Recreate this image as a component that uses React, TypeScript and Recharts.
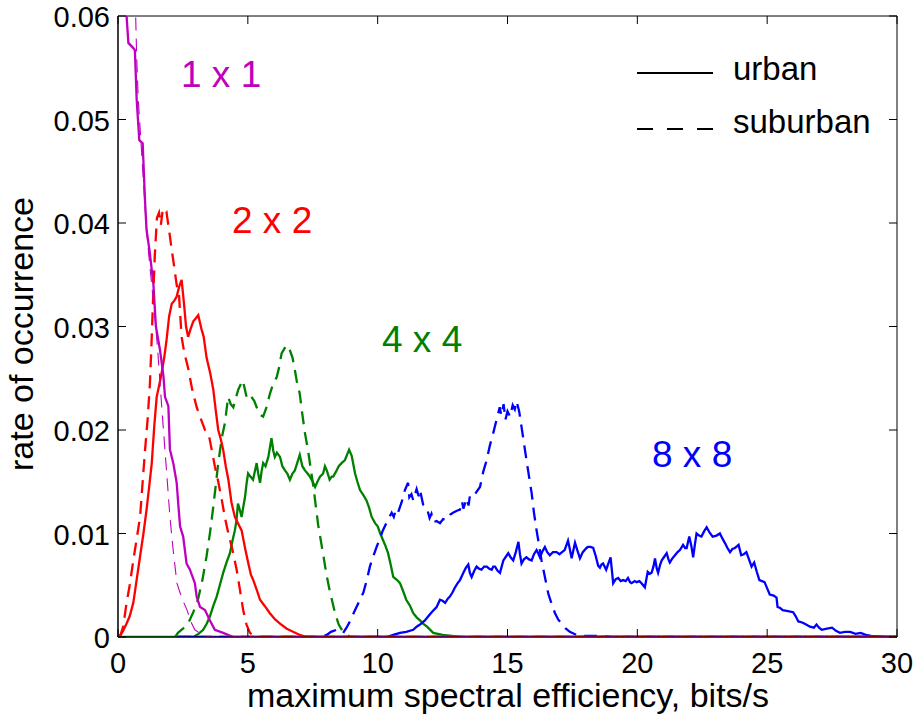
import React from 'react';
import { LineChart, Line, XAxis, YAxis, ReferenceArea } from 'recharts';

// [spectral efficiency, rate of occurrence]
const m1Urban: [number, number][] = [
  [0.2, 0.075], [0.33, 0.06], [0.4, 0.0574], [0.59, 0.0569], [0.65, 0.0567], [0.72, 0.0519],
  [0.82, 0.048], [0.95, 0.0477], [1.04, 0.0422], [1.1, 0.0393], [1.21, 0.0374], [1.36, 0.0342],
  [1.46, 0.03], [1.62, 0.0277], [1.75, 0.0252], [1.81, 0.0232], [1.94, 0.0223], [2.0, 0.0181],
  [2.13, 0.0168], [2.26, 0.0149], [2.32, 0.0129], [2.39, 0.0107], [2.51, 0.0097], [2.64, 0.0071],
  [2.77, 0.0065], [2.96, 0.0052], [3.03, 0.0039], [3.16, 0.0029], [3.35, 0.0026], [3.54, 0.0016],
  [3.73, 0.0007], [4.05, 0.0004], [4.44, 0], [30, 0],
];

const m1Suburban: [number, number][] = [
  [0.55, 0.07], [0.68, 0.06], [0.72, 0.056], [0.78, 0.052], [0.88, 0.048], [0.98, 0.044],
  [1.08, 0.04], [1.2, 0.0365], [1.3, 0.034], [1.42, 0.031], [1.52, 0.028], [1.62, 0.0245],
  [1.72, 0.021], [1.81, 0.018], [1.9, 0.015], [2.0, 0.0116], [2.12, 0.0085], [2.27, 0.0052],
  [2.45, 0.0038], [2.66, 0.0026], [2.8, 0.0015], [2.96, 0.0007], [3.3, 0.0001], [3.6, 0], [30, 0],
];

const r2Urban: [number, number][] = [
  [0, 0], [0.1, 0.0002], [0.2, 0.0006], [0.33, 0.0013], [0.45, 0.002], [0.59, 0.0033], [0.7, 0.0052],
  [0.85, 0.0078], [0.98, 0.01], [1.1, 0.0123], [1.2, 0.0145], [1.3, 0.0168], [1.4, 0.0205],
  [1.49, 0.0232], [1.6, 0.0245], [1.68, 0.0255], [1.78, 0.027], [1.87, 0.0287], [1.97, 0.031],
  [2.07, 0.0322], [2.17, 0.0325], [2.26, 0.0329], [2.35, 0.0338], [2.45, 0.0345], [2.55, 0.032],
  [2.62, 0.03], [2.7, 0.029], [2.8, 0.0298], [2.9, 0.0305], [3.0, 0.0308], [3.09, 0.0311],
  [3.22, 0.0297], [3.3, 0.029], [3.41, 0.027], [3.55, 0.0255], [3.67, 0.0239], [3.76, 0.022],
  [3.86, 0.02], [3.95, 0.0192], [4.05, 0.0181], [4.15, 0.0165], [4.25, 0.0152], [4.37, 0.013],
  [4.5, 0.0116], [4.62, 0.011], [4.76, 0.0103], [4.9, 0.0085], [5.02, 0.0071], [5.12, 0.006],
  [5.21, 0.0055], [5.35, 0.0045], [5.47, 0.0036], [5.65, 0.003], [5.85, 0.0023], [6.05, 0.0017],
  [6.24, 0.0013], [6.5, 0.0008], [6.74, 0.0005], [7.0, 0.0002], [7.26, 0], [30, 0],
];

const r2Suburban: [number, number][] = [
  [0, 0], [0.1, 0.0002], [0.2, 0.001], [0.33, 0.0033], [0.45, 0.005], [0.59, 0.0074], [0.72, 0.0095],
  [0.85, 0.0116], [0.95, 0.015], [1.04, 0.018], [1.14, 0.021], [1.23, 0.0245], [1.3, 0.029],
  [1.35, 0.0326], [1.42, 0.037], [1.5, 0.0405], [1.58, 0.041], [1.65, 0.0398], [1.72, 0.0412],
  [1.8, 0.0408], [1.87, 0.041], [2.0, 0.0387], [2.07, 0.0374], [2.18, 0.0355], [2.26, 0.034],
  [2.35, 0.033], [2.45, 0.029], [2.55, 0.0275], [2.7, 0.026], [2.85, 0.024], [3.03, 0.0222],
  [3.2, 0.021], [3.35, 0.02], [3.5, 0.0195], [3.73, 0.0165], [3.86, 0.015], [4.0, 0.0132],
  [4.12, 0.0115], [4.25, 0.01], [4.4, 0.0085], [4.57, 0.0065], [4.7, 0.0045], [4.82, 0.0026],
  [4.95, 0.0012], [5.08, 0.0004], [5.3, 0], [30, 0],
];

const g4Urban: [number, number][] = [
  [0, 0], [2.9, 0], [3.1, 0.0003], [3.28, 0.0007], [3.42, 0.0013], [3.54, 0.002], [3.67, 0.003],
  [3.8, 0.0039], [3.92, 0.005], [4.05, 0.0062], [4.18, 0.0072], [4.31, 0.0081], [4.4, 0.0092],
  [4.5, 0.0103], [4.56, 0.0112], [4.62, 0.0129], [4.7, 0.0122], [4.76, 0.0116], [4.82, 0.0125],
  [4.89, 0.0135], [4.95, 0.0148], [5.01, 0.0158], [5.1, 0.0155], [5.2, 0.0152], [5.27, 0.016],
  [5.34, 0.0168], [5.4, 0.0158], [5.47, 0.0149], [5.53, 0.016], [5.59, 0.0168], [5.68, 0.0165],
  [5.79, 0.0174], [5.91, 0.0192], [5.98, 0.018], [6.04, 0.0174], [6.12, 0.0178], [6.24, 0.0174],
  [6.33, 0.0165], [6.43, 0.0161], [6.52, 0.0158], [6.62, 0.0152], [6.72, 0.0158], [6.81, 0.0161],
  [6.9, 0.0168], [7.0, 0.0176], [7.1, 0.0165], [7.2, 0.0161], [7.3, 0.0158], [7.39, 0.0155],
  [7.5, 0.015], [7.59, 0.0145], [7.68, 0.015], [7.78, 0.0155], [7.9, 0.0158], [7.97, 0.0165],
  [8.04, 0.0161], [8.15, 0.0152], [8.23, 0.0155], [8.29, 0.0155], [8.4, 0.016], [8.5, 0.0165],
  [8.61, 0.0168], [8.74, 0.0171], [8.9, 0.0181], [9.0, 0.0175], [9.13, 0.0158], [9.22, 0.015],
  [9.32, 0.0142], [9.45, 0.0137], [9.57, 0.0132], [9.67, 0.0125], [9.77, 0.0116], [9.9, 0.011],
  [10.0, 0.0107], [10.1, 0.01], [10.2, 0.0094], [10.3, 0.0088], [10.4, 0.0081], [10.5, 0.007],
  [10.6, 0.0058], [10.75, 0.0055], [10.86, 0.0052], [11.0, 0.0043], [11.1, 0.0036], [11.25, 0.003],
  [11.37, 0.0023], [11.5, 0.0019], [11.63, 0.0016], [11.75, 0.0013], [11.9, 0.001], [12.14, 0.0004],
  [12.5, 0.0002], [13.2, 0], [30, 0],
];

const g4Suburban: [number, number][] = [
  [2.2, 0], [2.31, 0.0004], [2.5, 0.0008], [2.7, 0.0013], [2.9, 0.0024], [3.08, 0.0036], [3.25, 0.0055],
  [3.41, 0.0078], [3.55, 0.0102], [3.67, 0.0126], [3.78, 0.015], [3.86, 0.0168], [4.0, 0.0193],
  [4.12, 0.0207], [4.24, 0.0232], [4.34, 0.0225], [4.44, 0.0222], [4.55, 0.0232], [4.63, 0.0239],
  [4.8, 0.0248], [4.88, 0.024], [4.95, 0.0232], [5.05, 0.0235], [5.14, 0.0232], [5.25, 0.0228],
  [5.34, 0.0222], [5.45, 0.0215], [5.59, 0.0213], [5.72, 0.0222], [5.85, 0.0235], [5.98, 0.0245],
  [6.11, 0.0251], [6.2, 0.026], [6.3, 0.0274], [6.49, 0.0282], [6.62, 0.0277], [6.72, 0.027],
  [6.81, 0.0258], [6.9, 0.0245], [7.0, 0.0235], [7.1, 0.0215], [7.2, 0.0197], [7.32, 0.018],
  [7.52, 0.0146], [7.71, 0.0108], [7.9, 0.008], [8.03, 0.006], [8.16, 0.0044], [8.36, 0.0023],
  [8.5, 0.0012], [8.67, 0.0005], [8.94, 0], [30, 0],
];

const b8Urban: [number, number][] = [
  [2.3, 0], [10.35, 0], [10.6, 0.0002], [10.86, 0.0004], [11.1, 0.0005], [11.37, 0.0007], [11.5, 0.001],
  [11.63, 0.0012], [11.82, 0.0016], [11.95, 0.002], [12.08, 0.0024], [12.27, 0.0029], [12.4, 0.0036],
  [12.5, 0.0035], [12.6, 0.0033], [12.7, 0.0037], [12.78, 0.0039], [12.88, 0.0043], [12.98, 0.0048],
  [13.08, 0.0052], [13.17, 0.0055], [13.3, 0.0062], [13.4, 0.0067], [13.49, 0.007], [13.55, 0.0062],
  [13.62, 0.0058], [13.72, 0.0064], [13.81, 0.0068], [13.9, 0.0066], [14.0, 0.0065], [14.1, 0.0068],
  [14.2, 0.0068], [14.3, 0.0066], [14.39, 0.0065], [14.45, 0.0068], [14.52, 0.0068], [14.62, 0.0064],
  [14.71, 0.0062], [14.84, 0.0074], [14.95, 0.0078], [15.03, 0.0081], [15.12, 0.0077], [15.22, 0.0074],
  [15.32, 0.0082], [15.42, 0.0092], [15.48, 0.008], [15.54, 0.0071], [15.63, 0.0075], [15.73, 0.0077],
  [15.83, 0.0075], [15.93, 0.0074], [16.02, 0.008], [16.12, 0.0084], [16.2, 0.008], [16.25, 0.0077],
  [16.35, 0.0083], [16.44, 0.0087], [16.53, 0.0082], [16.63, 0.0079], [16.75, 0.0082], [16.89, 0.0082],
  [17.0, 0.008], [17.1, 0.0082], [17.2, 0.0084], [17.33, 0.0093], [17.4, 0.0085], [17.47, 0.0076],
  [17.53, 0.0083], [17.6, 0.0091], [17.7, 0.0083], [17.79, 0.0076], [17.9, 0.0082], [18.04, 0.0086],
  [18.1, 0.0087], [18.2, 0.0087], [18.3, 0.0086], [18.4, 0.0078], [18.49, 0.0069], [18.56, 0.0067],
  [18.62, 0.007], [18.68, 0.0071], [18.8, 0.0065], [18.9, 0.0072], [18.97, 0.0077], [19.07, 0.0052],
  [19.17, 0.0056], [19.26, 0.0057], [19.36, 0.0054], [19.45, 0.0055], [19.55, 0.0054], [19.64, 0.0057],
  [19.72, 0.0053], [19.78, 0.0052], [19.9, 0.0054], [19.97, 0.0053], [20.08, 0.0054], [20.16, 0.0052],
  [20.29, 0.0048], [20.4, 0.0063], [20.48, 0.0061], [20.55, 0.0062], [20.62, 0.0068], [20.68, 0.0076],
  [20.75, 0.0066], [20.8, 0.0062], [20.88, 0.007], [20.94, 0.0074], [21.05, 0.0078], [21.13, 0.0081],
  [21.2, 0.0075], [21.25, 0.0072], [21.35, 0.0076], [21.45, 0.0079], [21.55, 0.0082], [21.64, 0.0084],
  [21.76, 0.0089], [21.84, 0.0086], [21.9, 0.0086], [22.0, 0.0097], [22.08, 0.0088], [22.15, 0.0077],
  [22.22, 0.009], [22.28, 0.01], [22.38, 0.0098], [22.47, 0.0097], [22.57, 0.0102], [22.67, 0.0106],
  [22.78, 0.0101], [22.9, 0.0097], [23.05, 0.0098], [23.18, 0.01], [23.28, 0.0095], [23.37, 0.0091],
  [23.47, 0.0086], [23.57, 0.0082], [23.66, 0.0085], [23.76, 0.0086], [23.9, 0.0089], [24.0, 0.0079],
  [24.1, 0.008], [24.2, 0.0082], [24.3, 0.0075], [24.4, 0.0068], [24.5, 0.0072], [24.6, 0.0063],
  [24.7, 0.0055], [24.8, 0.0054], [24.9, 0.0053], [25.0, 0.0047], [25.1, 0.0041], [25.25, 0.004],
  [25.36, 0.0038], [25.4, 0.0029], [25.5, 0.0028], [25.6, 0.0026], [25.8, 0.0025], [26.0, 0.0024],
  [26.1, 0.002], [26.2, 0.0015], [26.35, 0.0014], [26.5, 0.0012], [26.65, 0.001], [26.8, 0.0009],
  [26.9, 0.0012], [27.0, 0.0009], [27.1, 0.0007], [27.3, 0.0008], [27.5, 0.0009], [27.65, 0.0006],
  [27.8, 0.0004], [28.0, 0.0005], [28.2, 0.0005], [28.4, 0.0003], [28.6, 0.0004], [28.8, 0.0002],
  [29.0, 0.0001], [29.5, 0], [30, 0],
];

const b8Suburban: [number, number][] = [
  [2.3, 0], [7.8, 0], [8.04, 0.0002], [8.2, 0.0005], [8.42, 0.0007], [8.55, 0.0006], [8.67, 0.0004],
  [8.8, 0.0009], [8.93, 0.0015], [9.13, 0.0026], [9.3, 0.0035], [9.45, 0.0043], [9.58, 0.0055],
  [9.7, 0.0068], [9.83, 0.0078], [9.96, 0.0087], [10.1, 0.0096], [10.2, 0.0103], [10.37, 0.0112],
  [10.54, 0.012], [10.62, 0.0116], [10.7, 0.0123], [10.78, 0.012], [10.92, 0.013], [11.05, 0.0142],
  [11.17, 0.0149], [11.22, 0.0135], [11.3, 0.0138], [11.37, 0.0132], [11.5, 0.0143], [11.58, 0.0136],
  [11.63, 0.0142], [11.75, 0.0128], [11.88, 0.0126], [12.0, 0.0115], [12.07, 0.0119], [12.14, 0.0111],
  [12.27, 0.0112], [12.4, 0.011], [12.52, 0.0114], [12.65, 0.0113], [12.78, 0.0118], [12.9, 0.012],
  [13.05, 0.0122], [13.17, 0.0123], [13.25, 0.0131], [13.3, 0.0124], [13.43, 0.0134], [13.5, 0.0127],
  [13.55, 0.0136], [13.68, 0.0135], [13.8, 0.014], [13.94, 0.0145], [14.07, 0.016], [14.2, 0.0171],
  [14.32, 0.0185], [14.45, 0.0197], [14.58, 0.021], [14.7, 0.0222], [14.76, 0.0214], [14.85, 0.0225],
  [14.92, 0.021], [15.0, 0.0218], [15.1, 0.0213], [15.2, 0.0224], [15.28, 0.022], [15.35, 0.0228],
  [15.45, 0.0218], [15.54, 0.0203], [15.63, 0.0188], [15.73, 0.0171], [15.83, 0.0155], [15.93, 0.0139],
  [16.02, 0.012], [16.12, 0.0103], [16.22, 0.0088], [16.31, 0.0074], [16.44, 0.0058], [16.57, 0.0042],
  [16.7, 0.0032], [16.83, 0.0023], [16.95, 0.0017], [17.08, 0.0013], [17.25, 0.0008], [17.4, 0.0005],
  [17.66, 0.0002], [18.0, 0.0001], [18.5, 0.0001], [19.0, 0], [30, 0],
];

const xTicks = [0, 5, 10, 15, 20, 25, 30];
const yTicks = [0, 0.01, 0.02, 0.03, 0.04, 0.05, 0.06];

const MAGENTA = '#bf00bf';
const RED = '#ff0000';
const GREEN = '#008000';
const BLUE = '#0000ff';
const FONT = '"Liberation Sans", Arial, Helvetica, sans-serif';

const W = 913;
const H = 717;
const TOP = 16;
const RIGHT = 897;
const TICK = 8;

const toPoints = (s: [number, number][]) => s.map(([x, y]) => ({ x, y }));

// drawn in this order, last one on top
const series = [
  { key: 'g4u', data: g4Urban, color: GREEN, dashed: false, width: 2.3 },
  { key: 'g4s', data: g4Suburban, color: GREEN, dashed: true, width: 2.3 },
  { key: 'b8u', data: b8Urban, color: BLUE, dashed: false, width: 2.3 },
  { key: 'b8s', data: b8Suburban, color: BLUE, dashed: true, width: 2.3 },
  { key: 'r2u', data: r2Urban, color: RED, dashed: false, width: 2.3 },
  { key: 'm1u', data: m1Urban, color: MAGENTA, dashed: false, width: 2.3 },
  { key: 'r2s', data: r2Suburban, color: RED, dashed: true, width: 2.3 },
  { key: 'm1s', data: m1Suburban, color: MAGENTA, dashed: true, width: 1.1 },
];

function XTick(props: any) {
  const { x, y, payload } = props;
  return (
    <g>
      <line x1={x} x2={x} y1={y} y2={y - TICK} stroke="#000" />
      <line x1={x} x2={x} y1={TOP} y2={TOP + TICK} stroke="#000" />
      <text x={x} y={y + 36} textAnchor="middle" fontSize={29} fontFamily={FONT} fill="#000">
        {payload.value}
      </text>
    </g>
  );
}

function YTick(props: any) {
  const { x, y, payload } = props;
  const label = payload.value === 0 ? '0' : payload.value.toFixed(2);
  return (
    <g>
      <line x1={x} x2={x + TICK} y1={y} y2={y} stroke="#000" />
      <line x1={RIGHT} x2={RIGHT - TICK} y1={y} y2={y} stroke="#000" />
      <text x={x - 8} y={y + 11} textAnchor="end" fontSize={29} fontFamily={FONT} fill="#000">
        {label}
      </text>
    </g>
  );
}

export default function App() {
  return (
    <div style={{ position: 'absolute', left: 0, top: 0, width: W, height: H, background: '#fff' }}>
      <LineChart width={W} height={H} margin={{ top: TOP, right: W - RIGHT, bottom: 0, left: 0 }}>
        <XAxis
          type="number"
          dataKey="x"
          domain={[0, 30]}
          ticks={xTicks}
          allowDataOverflow
          height={80}
          tickLine={false}
          tickSize={0}
          tickMargin={0}
          axisLine={{ stroke: '#000' }}
          tick={(p: any) => <XTick {...p} />}
        />
        <YAxis
          type="number"
          domain={[0, 0.06]}
          ticks={yTicks}
          allowDataOverflow
          width={118}
          tickLine={false}
          tickSize={0}
          tickMargin={0}
          axisLine={{ stroke: '#000' }}
          tick={(p: any) => <YTick {...p} />}
        />
        <ReferenceArea x1={0} x2={30} y1={0} y2={0.06} fill="none" stroke="#000" strokeOpacity={1} fillOpacity={0} />
        {series.map((s) => (
          <Line
            key={s.key}
            data={toPoints(s.data)}
            dataKey="y"
            type="linear"
            stroke={s.color}
            strokeWidth={s.width}
            strokeDasharray={s.dashed ? '13 8' : undefined}
            dot={false}
            activeDot={false}
            isAnimationActive={false}
          />
        ))}
      </LineChart>
      <svg
        width={W}
        height={H}
        style={{ position: 'absolute', left: 0, top: 0, pointerEvents: 'none' }}
        fontFamily={FONT}
      >
        <text x={181} y={87} fontSize={37} fill={MAGENTA}>1 x 1</text>
        <text x={232} y={233} fontSize={37} fill={RED}>2 x 2</text>
        <text x={382} y={352} fontSize={37} fill={GREEN}>4 x 4</text>
        <text x={652} y={467} fontSize={37} fill={BLUE}>8 x 8</text>

        <line x1={637} x2={713} y1={73} y2={73} stroke="#000" strokeWidth={2} />
        <text x={733} y={80} fontSize={33} fill="#000">urban</text>
        <line x1={637} x2={713} y1={129} y2={129} stroke="#000" strokeWidth={2} strokeDasharray="16 14" />
        <text x={733} y={133} fontSize={33} fill="#000">suburban</text>

        <text x={508} y={707} fontSize={34} textAnchor="middle" fill="#000">
          maximum spectral efficiency, bits/s
        </text>
        <text x={33} y={334} fontSize={34} textAnchor="middle" fill="#000" transform="rotate(-90 33 334)">
          rate of occurrence
        </text>
      </svg>
    </div>
  );
}
